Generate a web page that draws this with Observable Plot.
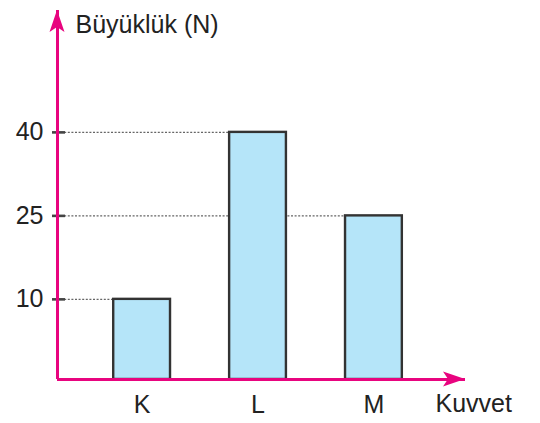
<!DOCTYPE html>
<html>
<head>
<meta charset="utf-8">
<script src="https://cdn.jsdelivr.net/npm/d3@7"></script>
<script src="https://cdn.jsdelivr.net/npm/@observablehq/plot@0.6"></script>
<style>
  html, body { margin: 0; padding: 0; background: #fff; }
  svg { display: block; }
</style>
</head>
<body>
<div id="chart"></div>
<script>
// Data
const categories = ["K", "L", "M"];
const values = [10, 40, 25];
const yTicks = [10, 25, 40];
const yTitle = "Büyüklük (N)";
const xTitle = "Kuvvet";

// The figure is schematic: its origin sits below the 10 tick.
const yBase = -4.4, yTop = 61.9;       // y domain
const xMin = -0.73, xMax = 2.79;       // x domain (category index)
const half = 0.245;                    // half bar width, in steps

const data = categories.map((c, i) => ({category: c, index: i, value: values[i]}));

const pink = "#e8047f";
const font = "'Liberation Sans', Arial, Helvetica, sans-serif";

const W = 540, H = 423;
const mLeft = 57, mRight = 75, mTop = 10, mBottom = 44;

const chart = Plot.plot({
  width: W,
  height: H,
  marginLeft: mLeft,
  marginRight: mRight,
  marginTop: mTop,
  marginBottom: mBottom,
  style: {fontFamily: font, background: "#fff", overflow: "visible"},
  x: {domain: [xMin, xMax], label: null},
  y: {domain: [yBase, yTop], label: null},
  marks: [
    // dotted guide lines from the axis to each bar
    Plot.ruleY(data, {y: "value", x1: () => xMin, x2: d => d.index - half,
      stroke: "#666", strokeWidth: 1.4, strokeDasharray: "2,1.6"}),
    Plot.rectY(data, {x1: d => d.index - half, x2: d => d.index + half, y1: () => yBase, y2: "value",
      fill: "#b5e5f9", stroke: "#333", strokeWidth: 2.4}),
    Plot.axisY({ticks: yTicks, tickSize: 13, dx: 8, tickPadding: 9, stroke: "#444", strokeWidth: 2.6,
      fill: "#222", fontSize: 25, label: null}),
    Plot.axisX({ticks: categories.map((c, i) => i), tickFormat: i => categories[i], tickSize: 0, tickPadding: 16,
      fill: "#222", fontSize: 25, label: null}),
    Plot.ruleY([yBase], {stroke: pink, strokeWidth: 3}),
    Plot.ruleX([xMin], {y1: yBase, y2: yTop, stroke: pink, strokeWidth: 3}),
    Plot.text([xTitle], {frameAnchor: "bottom-right", dx: -30, dy: 24, textAnchor: "start", fontSize: 25, fill: "#222", lineAnchor: "middle"}),
    Plot.text([yTitle], {frameAnchor: "top-left", dx: 18, dy: 14, textAnchor: "start", fontSize: 25, fill: "#222", lineAnchor: "middle"})
  ]
});

// arrowheads at the ends of the two axes, positioned from the chart's scales
const svg = d3.select(chart);
const xs = chart.scale("x"), ys = chart.scale("y");
const x0 = xs.apply(xMin), xE = xs.apply(xMax);
const y0 = ys.apply(yBase), yT = ys.apply(yTop);
svg.append("path")
  .attr("d", `M${x0},${yT} L${x0 + 7.5},${yT + 22} L${x0},${yT + 17} L${x0 - 7.5},${yT + 22} Z`)
  .attr("fill", pink);
svg.append("path")
  .attr("d", `M${xE},${y0} L${xE - 22},${y0 - 7.5} L${xE - 17},${y0} L${xE - 22},${y0 + 7.5} Z`)
  .attr("fill", pink);

document.getElementById("chart").appendChild(chart);
</script>
</body>
</html>
